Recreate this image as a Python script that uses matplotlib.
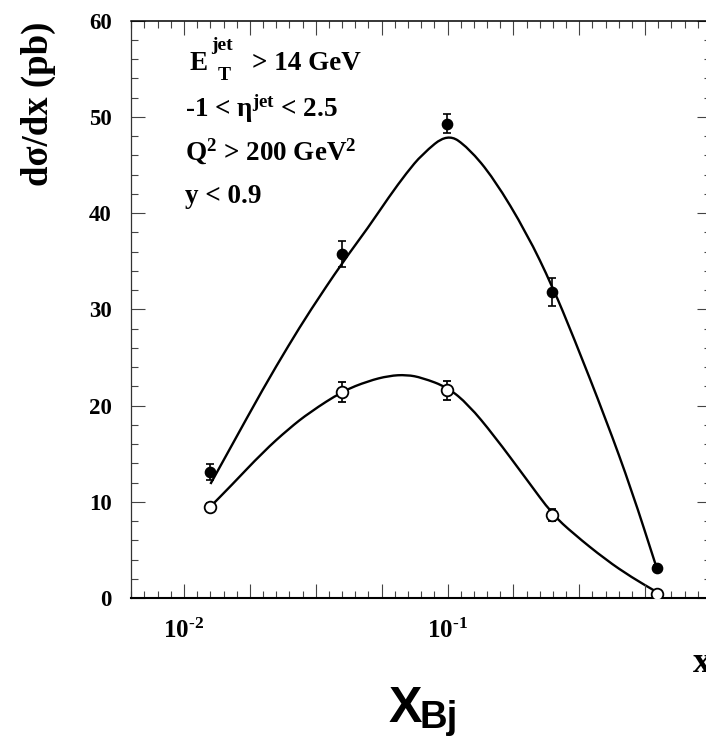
import numpy as np
import matplotlib
matplotlib.use("Agg")
import matplotlib.pyplot as plt
from matplotlib import font_manager
from matplotlib.path import Path
from matplotlib.patches import PathPatch
from matplotlib.ticker import FixedLocator, FixedFormatter

# ---- measured cross sections ----
x_bins = [0.0126, 0.0397, 0.0993, 0.2485, 0.622]
sigma_all = [13.1, 35.8, 49.3, 31.8, 3.1]
err_all = [0.85, 1.35, 1.0, 1.45, 0.3]
sigma_sub = [9.5, 21.4, 21.6, 8.6, 0.42]
err_sub = [0.4, 1.0, 1.0, 0.6, 0.2]

# ---- theory curves ----
x_curve = [0.0126, 0.015, 0.02, 0.025, 0.03, 0.04, 0.05, 0.06, 0.07, 0.08,
           0.1, 0.12, 0.15, 0.2, 0.25, 0.3, 0.4, 0.5, 0.62]
curve_all = [11.85, 15.6, 21.8, 26.3, 29.8, 34.9, 38.5, 41.7, 44.2, 46.1,
             48.3, 46.8, 43.6, 37.9, 32.4, 27.2, 18.5, 11.2, 3.25]
curve_sub = [9.5, 11.6, 15.2, 17.6, 19.3, 21.5, 22.55, 23.1, 23.2, 22.9,
             21.9, 20.1, 16.9, 12.3, 8.7, 6.7, 3.95, 2.15, 0.65]

# ---- axis ticks ----
y_ticks = [0, 10, 20, 30, 40, 50, 60]
x_major_exp = np.arange(-2.0, 0.001, 0.25)
x_minor_exp = np.arange(-2.2, 0.001, 0.05)
x_tick_text = {-2.0: r"10$^{\text{-2}}$", -1.0: r"10$^{\text{-1}}$"}

plt.rcParams["mathtext.fontset"] = "custom"
plt.rcParams["mathtext.rm"] = "Liberation Serif:bold"
plt.rcParams["mathtext.it"] = "Liberation Serif:bold"
plt.rcParams["mathtext.bf"] = "Liberation Serif:bold"
serif = dict(family="Liberation Serif", weight="bold")


def sans_family():
    try:
        font_manager.findfont(font_manager.FontProperties(family="Liberation Sans Narrow",
                                                          weight="bold"),
                              fallback_to_default=False)
        return "Liberation Sans Narrow", 1.0
    except Exception:
        return "Liberation Sans", 0.95


def smooth_path(xs, ys):
    """Quadratic-Bezier chain through the midpoints of successive nodes."""
    verts = [(xs[0], ys[0])]
    codes = [Path.MOVETO]
    mids = [((xs[i] + xs[i + 1]) / 2, (ys[i] + ys[i + 1]) / 2) for i in range(len(xs) - 1)]
    verts.append(mids[0])
    codes.append(Path.LINETO)
    for i in range(1, len(xs) - 1):
        verts += [(xs[i], ys[i]), mids[i]]
        codes += [Path.CURVE3, Path.CURVE3]
    verts.append((xs[-1], ys[-1]))
    codes.append(Path.LINETO)
    return Path(verts, codes)


W, H = 706, 744
fig = plt.figure(figsize=(W / 100, H / 100), dpi=100)
left, right, bottom, top = 131.3, 711.0, 598.0, 20.7
ax = fig.add_axes([left / W, (H - bottom) / H, (right - left) / W, (bottom - top) / H])

ax.set_xscale("log")
ax.set_xlim(10 ** -2.2, 1.0)
ax.set_ylim(0, 60)

# the Bezier control points are placed in log-x so the curves stay smooth
lx = list(np.log10(x_curve))
for ys in (curve_all, curve_sub):
    p = smooth_path(lx, ys)
    p = Path(np.column_stack([10 ** p.vertices[:, 0], p.vertices[:, 1]]), p.codes)
    ax.add_patch(PathPatch(p, fill=False, lw=1.7, edgecolor="black",
                           transform=ax.transData, capstyle="butt"))

ax.errorbar(x_bins, sigma_all, yerr=err_all, fmt="o", color="black",
            ms=7.4, capsize=3, elinewidth=1.2, capthick=1.2, zorder=5)
ax.errorbar(x_bins, sigma_sub, yerr=err_sub, fmt="o", color="black",
            mfc="white", mec="black", mew=1.3, ms=8.4, capsize=3,
            elinewidth=1.2, capthick=1.2, zorder=5)

# ticks on all four sides, pointing inwards
major_pos = [10 ** e for e in x_major_exp]
minor_pos = [10 ** e for e in x_minor_exp]
ax.xaxis.set_major_locator(FixedLocator(major_pos))
ax.xaxis.set_minor_locator(FixedLocator(minor_pos))
labels = [x_tick_text.get(round(e, 2), "") for e in x_major_exp]
ax.xaxis.set_major_formatter(FixedFormatter(labels))
ax.xaxis.set_minor_formatter(FixedFormatter([""] * len(minor_pos)))
ax.set_yticks(y_ticks)
ax.set_yticks(np.arange(0, 61, 2), minor=True)
ax.tick_params(which="both", direction="in", top=True, right=True,
               color="#444444", width=0.8)
ax.tick_params(which="major", length=10)
ax.tick_params(which="minor", length=5)
ax.tick_params(axis="y", which="major", pad=14)
ax.tick_params(axis="x", which="major", pad=15)
for lab in ax.get_yticklabels():
    lab.set_fontfamily("Liberation Serif")
    lab.set_fontweight("bold")
    lab.set_fontsize(16.5)
for lab in ax.get_xticklabels():
    lab.set_fontfamily("Liberation Serif")
    lab.set_fontweight("bold")
    lab.set_fontsize(18)

for side in ["left", "right"]:
    ax.spines[side].set_linewidth(0.9)
    ax.spines[side].set_color("#333333")
ax.spines["bottom"].set_linewidth(1.5)
ax.spines["top"].set_linewidth(1.1)

# selection cuts
fs = 19.5
tf = fig.transFigure
ax.text(190 / W, 1 - 70 / H, "E", transform=tf, fontsize=fs, va="baseline", ha="left", **serif)
ax.text(211 / W, 1 - 50 / H, "jet", transform=tf, fontsize=14, va="baseline", ha="left", **serif)
ax.text(218 / W, 1 - 79.5 / H, "T", transform=tf, fontsize=14, va="baseline", ha="left", **serif)
ax.text(252 / W, 1 - 70 / H, "> 14 GeV", transform=tf, fontsize=fs, va="baseline", ha="left", **serif)
ax.text(185 / W, 1 - 116.7 / H, r"-1 < η$^{jet}$ < 2.5", transform=tf,
        fontsize=fs, va="baseline", ha="left", **serif)
ax.text(185 / W, 1 - 160 / H, r"Q$^{2}$ > 200 GeV$^{2}$", transform=tf,
        fontsize=fs, va="baseline", ha="left", **serif)
ax.text(185 / W, 1 - 203 / H, "y < 0.9", transform=tf,
        fontsize=fs, va="baseline", ha="left", **serif)

# axis titles
fig.text(38 / W, 1 - 22 / H, "dσ/dx (pb)", rotation=90, ha="center", va="top",
         fontsize=26.5, **serif)
fig.text(693 / W, 1 - 672 / H, "x", ha="left", va="baseline", fontsize=26, **serif)
fam, k = sans_family()
fig.text(389 / W, 1 - 722 / H, "X", ha="left", va="baseline", fontsize=38 * k,
         family=fam, weight="bold")
fig.text(419 / W, 1 - 728 / H, "Bj", ha="left", va="baseline", fontsize=29 * k,
         family=fam, weight="bold")

fig.savefig("out.png", dpi=100)
